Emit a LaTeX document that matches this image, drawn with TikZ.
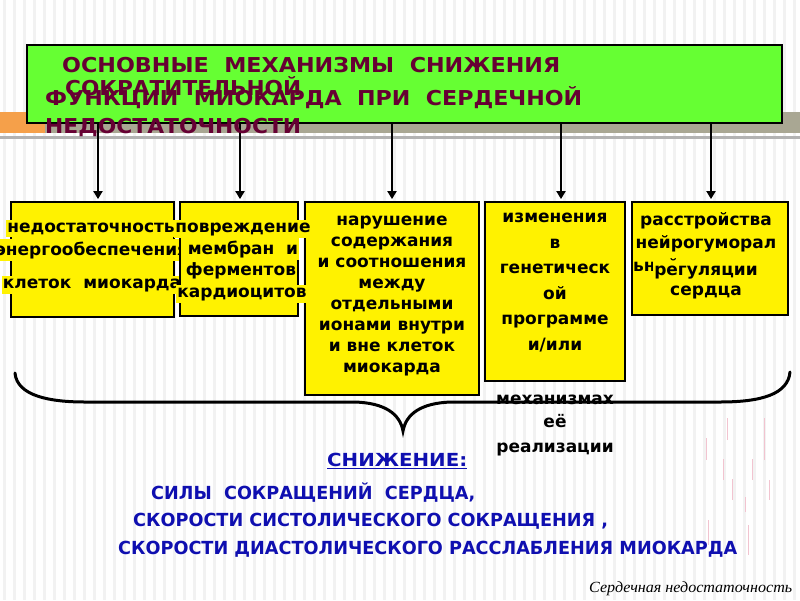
\documentclass[tikz,border=0pt]{standalone}
\usepackage{fontspec}
\setmainfont{DejaVu Sans}
\newfontfamily\serifit{Liberation Serif}
\usetikzlibrary{arrows.meta}
\definecolor{ttl}{HTML}{660033}
\definecolor{grn}{HTML}{66FF33}
\definecolor{blu}{HTML}{0F0FB0}
\definecolor{org}{HTML}{F5A04A}
\definecolor{olv}{HTML}{A9A793}
\definecolor{stripe}{HTML}{F2F2F2}
\definecolor{pinkm}{HTML}{F2C4D0}
\newlength\fitlen
\newcommand\fitw[2]{\settowidth\fitlen{#2}\pgfmathsetmacro\fitr{#1/\fitlen}\scalebox{\fitr}[1]{#2}}
\tikzset{
  ybox/.style={draw=black, line width=1.8pt, fill=yellow, inner sep=0pt},
  btxt/.style={font=\fontsize{17}{17}\selectfont\bfseries, inner sep=0pt, anchor=base},
  hl/.style={fill=yellow, inner xsep=1pt, inner ysep=2.5pt},
  ttxt/.style={font=\fontsize{20.5}{20.5}\selectfont\bfseries, text=ttl, inner sep=0pt, anchor=base west},
  btext/.style={font=\fontsize{18}{18}\selectfont\bfseries, text=blu, inner sep=0pt, anchor=base west},
  arr/.style={line width=2.4pt, -{Triangle[length=8pt,width=9pt]}, shorten >=2pt},
  brace/.style={line width=3pt, line cap=round},
  pinkline/.style={pinkm, line width=0.8pt}
}
\begin{document}
\begin{tikzpicture}[x=1pt,y=-1pt]
\useasboundingbox (0,0) rectangle (800,600);
% background
\fill[white] (0,0) rectangle (800,600);
\foreach \i in {0,...,79} \fill[stripe] (\i*10+3,0) rectangle ++(3,600);
% header band
\fill[org] (0,112) rectangle (45,133);
\fill[olv] (45,112) rectangle (800,133);
\fill[gray!60] (0,136) rectangle (800,139);
% title box
\node[draw=black, line width=2pt, fill=grn, minimum width=755pt, minimum height=78pt, inner sep=0pt] (title) at (404.5,84) {};
% boxes
\node[ybox, minimum width=163pt, minimum height=115pt] (b1) at (92.5,259.5) {};
\node[btxt, hl] (b1t1) at (91,232) {недостаточность};
\node[btxt, hl] (b1t2) at (92,255) {энергообеспечения};
\node[btxt, hl] (b1t3) at (92,288) {клеток~~миокарда};
\node[ybox, minimum width=118pt, minimum height=114pt] (b2) at (239,259) {};
\node[ybox, minimum width=174pt, minimum height=193pt] (b3) at (392,298.5) {};
\node[btxt, hl] (b2t1) at (243,232) {повреждение};
\node[btxt, hl] (b2t2) at (243,254) {мембран~~и};
\node[btxt, hl] (b2t3) at (241,275) {ферментов};
\node[btxt, hl] (b2t4) at (242,297) {кардиоцитов};
\foreach \t [count=\i from 0] in {нарушение, содержания, и соотношения, между, отдельными, ионами внутри, и вне клеток, миокарда}
  \node[btxt] (b3t\i) at (392,225+21*\i) {\t};
\node[ybox, minimum width=140pt, minimum height=179pt] (b4) at (555,291.5) {};
\node[btxt] (b4t1) at (555,222) {изменения};
\node[btxt] (b4t2) at (555,248) {в};
\node[btxt] (b4t3) at (555,273) {генетическ};
\node[btxt] (b4t4) at (555,299) {ой};
\node[btxt] (b4t5) at (555,324) {программе};
\node[btxt] (b4t6) at (555,350) {и/или};
\node[btxt] (b4t7) at (555,404) {механизмах};
\node[btxt] (b4t8) at (555,427) {её};
\node[btxt] (b4t9) at (555,452) {реализации};
\node[ybox, minimum width=156pt, minimum height=113pt] (b5) at (710,258.5) {};
\node[btxt] (b5t1) at (706,225) {расстройства};
\node[btxt] (b5t2) at (706,248) {нейрогуморал};
\node[btxt, anchor=base west] (b5t3) at (633,271) {ьной};
\node[btxt, hl, inner ysep=4pt] (b5t4) at (706,275) {регуляции};
\node[btxt] (b5t5) at (706,295) {сердца};
% arrows
\coordinate (a1) at (98,160);
\coordinate (a2) at (240,160);
\coordinate (a3) at (392,160);
\coordinate (a4) at (561,160);
\coordinate (a5) at (711,160);
\draw[arr] (a1 |- title.south) -- (a1 |- b1.north);
\draw[arr] (a2 |- title.south) -- (a2 |- b2.north);
\draw[arr] (a3 |- title.south) -- (a3 |- b3.north);
\draw[arr] (a4 |- title.south) -- (a4 |- b4.north);
\draw[arr] (a5 |- title.south) -- (a5 |- b5.north);
% title text
\node[ttxt] (t1) at (62,72) {\fitw{498}{ОСНОВНЫЕ~~МЕХАНИЗМЫ~~СНИЖЕНИЯ}};
\node[ttxt] (t2) at (65,95) {\fitw{236}{СОКРАТИТЕЛЬНОЙ}};
\node[ttxt] (t3) at (45,105) {\fitw{537}{ФУНКЦИИ~~МИОКАРДА~~ПРИ~~СЕРДЕЧНОЙ}};
\node[ttxt] (t4) at (45,133) {\fitw{256}{НЕДОСТАТОЧНОСТИ}};
% brace
\draw[brace] (15,373) .. controls (17,396) and (50,402) .. (85,402) -- (355,402)
  .. controls (385,403) and (400,414) .. (403,431)
  .. controls (406,414) and (421,403) .. (451,402) -- (720,402)
  .. controls (762,402) and (788,394) .. (790,372);
% blue text
\node[btext] (sn) at (327,466) {\fitw{140}{СНИЖЕНИЕ:}};
\draw[blu, line width=1.3pt] ([yshift=-2.5pt]sn.base west) -- ([yshift=-2.5pt]sn.base east);
\node[btext] (l1) at (151,499) {\fitw{324}{СИЛЫ~~СОКРАЩЕНИЙ~~СЕРДЦА,}};
\node[btext] (l2) at (133,526) {\fitw{475}{СКОРОСТИ СИСТОЛИЧЕСКОГО СОКРАЩЕНИЯ ,}};
\node[btext] (l3) at (118,554) {\fitw{619}{СКОРОСТИ ДИАСТОЛИЧЕСКОГО РАССЛАБЛЕНИЯ МИОКАРДА}};
% footer
\node[font=\serifit\itshape\fontsize{15.5}{15.5}\selectfont, inner sep=0pt, anchor=base west] (foot) at (589,592) {\fitw{203}{Сердечная недостаточность}};
% pink marks
\foreach \x/\ya/\yb in {727/418/440, 764/418/460, 706/438/460, 723/459/480, 752/459/480, 732/479/500, 769/480/500, 745/497/512, 708/520/545, 748/525/555}
  \draw[pinkline] (\x,\ya) -- (\x,\yb);
\end{tikzpicture}
\end{document}
